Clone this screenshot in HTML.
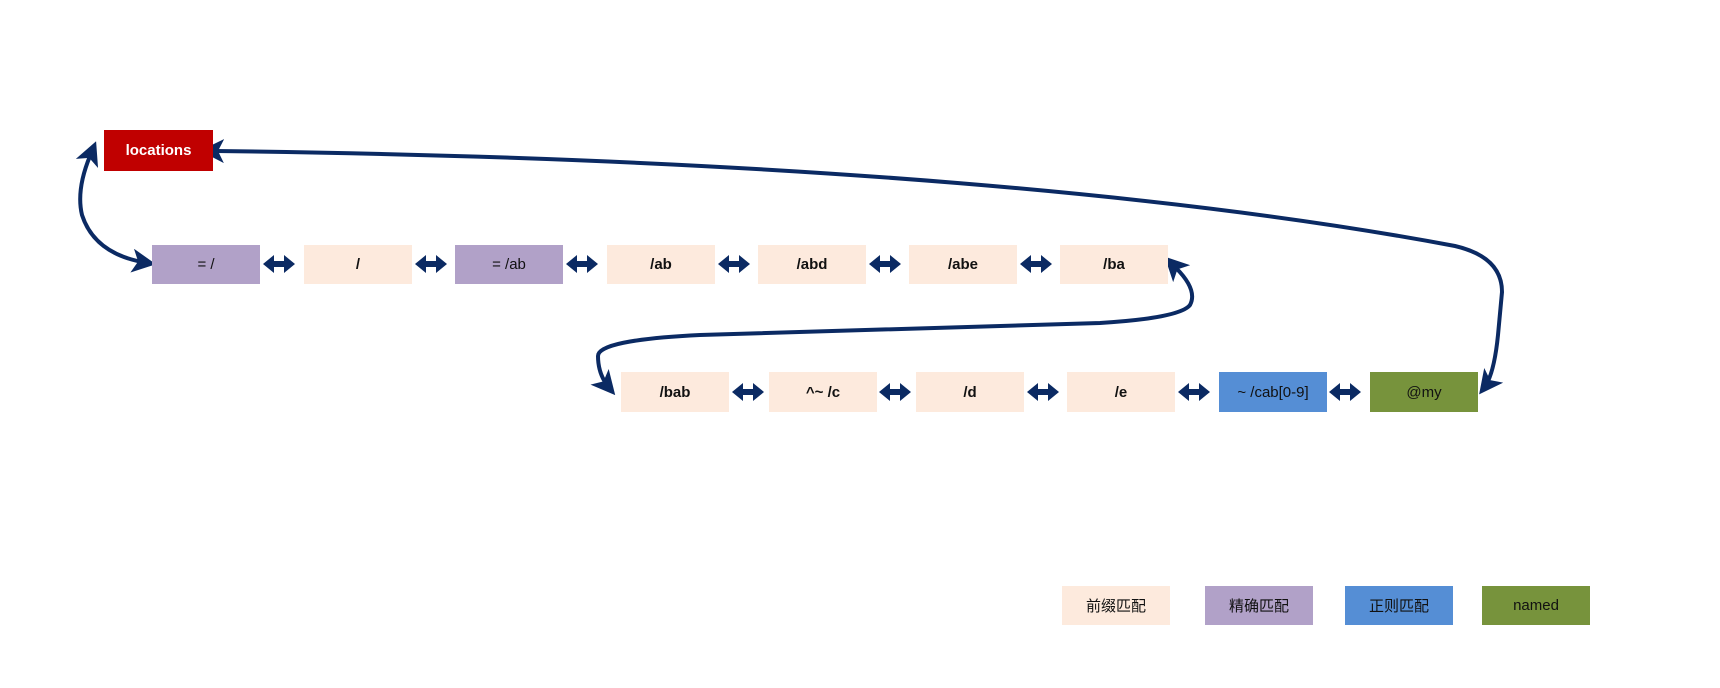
<!DOCTYPE html>
<html><head><meta charset="utf-8"><style>
body{margin:0;width:1720px;height:688px;background:#fff;position:relative;overflow:hidden;font-family:"Liberation Sans","Noto Sans CJK SC",sans-serif}
.b{position:absolute;height:39px;width:108px;display:flex;align-items:center;justify-content:center;font-size:15px;color:#111}
.p{background:#fdeadd;font-weight:bold}.u{background:#b1a1c8}.r{background:#558ed5}.g{background:#77933c}
svg{position:absolute;left:0;top:0}
</style></head><body>
<svg width="1720" height="688">
<defs><marker id="a" markerWidth="6" markerHeight="6" refX="4" refY="3" orient="auto" markerUnits="strokeWidth"><path d="M0,0 L6,3 L0,6 L1.5,3 z" fill="#0b2a63"/></marker>
<marker id="s" markerWidth="6" markerHeight="6" refX="2" refY="3" orient="auto-start-reverse" markerUnits="strokeWidth"><path d="M0,0 L6,3 L0,6 L1.5,3 z" fill="#0b2a63"/></marker></defs>
<g fill="none" stroke="#0b2a63" stroke-width="4">
<path d="M90,156 Q76,190 82,215 Q95,255 148,263" marker-start="url(#s)" marker-end="url(#a)"/>
<path d="M216,151 C800,158 1200,198 1455,246 Q1502,257 1502,292 L1498,335 Q1494,375 1484,388" marker-start="url(#s)" marker-end="url(#a)"/>
<path d="M1176,268 Q1198,290 1190,305 Q1180,318 1100,323 L700,335 Q598,340 598,356 Q598,375 610,389" marker-start="url(#s)" marker-end="url(#a)"/>
</g>
</svg>
<div class="b" style="left:104px;top:130px;width:109px;height:41px;background:#c00000;color:#fff;font-weight:bold">locations</div>
<div class="b u" style="left:152px;top:245px">= /</div>
<div class="b p" style="left:304px;top:245px">/</div>
<div class="b u" style="left:455px;top:245px">= /ab</div>
<div class="b p" style="left:607px;top:245px">/ab</div>
<div class="b p" style="left:758px;top:245px">/abd</div>
<div class="b p" style="left:909px;top:245px">/abe</div>
<div class="b p" style="left:1060px;top:245px">/ba</div>
<div class="b p" style="left:621px;top:372px;height:40px">/bab</div>
<div class="b p" style="left:769px;top:372px;height:40px">^~ /c</div>
<div class="b p" style="left:916px;top:372px;height:40px">/d</div>
<div class="b p" style="left:1067px;top:372px;height:40px">/e</div>
<div class="b r" style="left:1219px;top:372px;height:40px">~ /cab[0-9]</div>
<div class="b g" style="left:1370px;top:372px;height:40px">@my</div>
<div class="b p" style="left:1062px;top:586px;font-weight:normal">前缀匹配</div>
<div class="b u" style="left:1205px;top:586px">精确匹配</div>
<div class="b r" style="left:1345px;top:586px">正则匹配</div>
<div class="b g" style="left:1482px;top:586px">named</div>
<svg width="1720" height="688">
<g fill="#0b2a63">
<path id="d" d="M0,0 L11,-9 L11,-3 L21,-3 L21,-9 L32,0 L21,9 L21,3 L11,3 L11,9 z" transform="translate(263,264)"/>
<use href="#d" x="152"/><use href="#d" x="303"/><use href="#d" x="455"/><use href="#d" x="606"/><use href="#d" x="757"/>
<use href="#d" x="469" y="128"/><use href="#d" x="616" y="128"/><use href="#d" x="764" y="128"/><use href="#d" x="915" y="128"/><use href="#d" x="1066" y="128"/>
</g></svg>
</body></html>
